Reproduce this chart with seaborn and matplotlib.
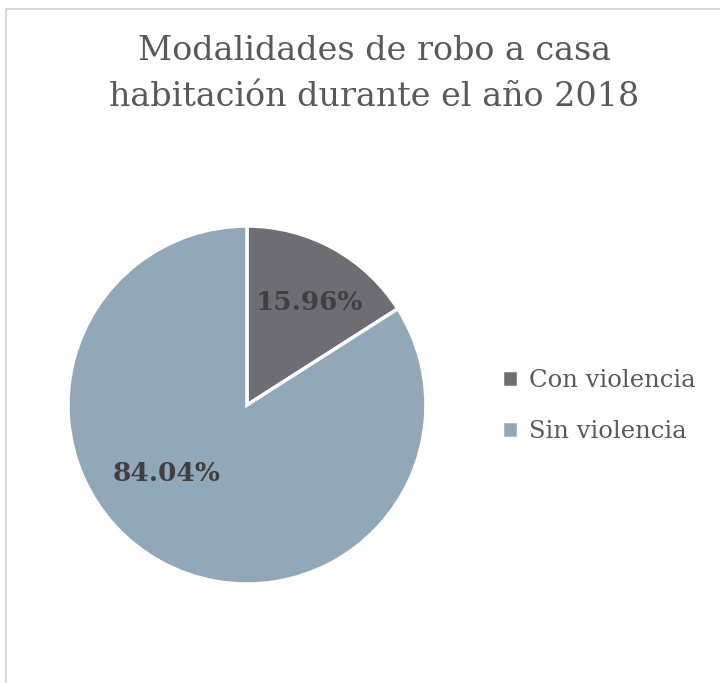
import matplotlib
matplotlib.use("Agg")
import matplotlib.pyplot as plt
import seaborn as sns
from matplotlib.patches import Rectangle

categorias = ["Con violencia", "Sin violencia"]
porcentajes = [15.96, 84.04]
colores = ["#6E6D73", "#91A8B8"]
titulo = "Modalidades de robo a casa\nhabitación durante el año 2018"

sns.set_theme(style="white")
plt.rcParams["font.family"] = ["DejaVu Serif"]

fig = plt.figure(figsize=(7.2, 6.83), dpi=100)

# light frame, cut off at right and bottom like the screenshot
fig.patches.append(Rectangle((6 / 720, -0.05), 1.1, 1 - 9 / 683 + 0.05,
                             transform=fig.transFigure, fill=False,
                             edgecolor="#D9D9D9", linewidth=1.5))

fig.text(0.52, 0.892, titulo, ha="center", va="center", fontsize=24,
         color="#595959", linespacing=1.55)

ax = fig.add_axes([0.343 - 0.2486, 0.407 - 0.2621, 0.4972, 0.5242])
wedges, texts, autotexts = ax.pie(
    porcentajes, colors=colores, startangle=90, counterclock=False,
    autopct="%.2f%%", pctdistance=0.65,
    wedgeprops=dict(edgecolor="white", linewidth=2.5),
    textprops=dict(fontsize=19, fontweight="bold", color="#404040"))
ax.set_xlim(-1, 1)
ax.set_ylim(-1, 1)
ax.set_aspect("equal")

# label spots as in the original chart
autotexts[0].set_position((0.35, 0.575))
autotexts[1].set_position((-0.45, -0.38))

fig.legend(wedges, categorias, loc="center left",
           bbox_to_anchor=(480 / 720, 1 - 406 / 683),
           frameon=False, fontsize=17.5, handlelength=0.65, handleheight=0.65,
           handletextpad=0.45, labelspacing=1.15, labelcolor="#595959")

fig.savefig("out.png", dpi=100)
